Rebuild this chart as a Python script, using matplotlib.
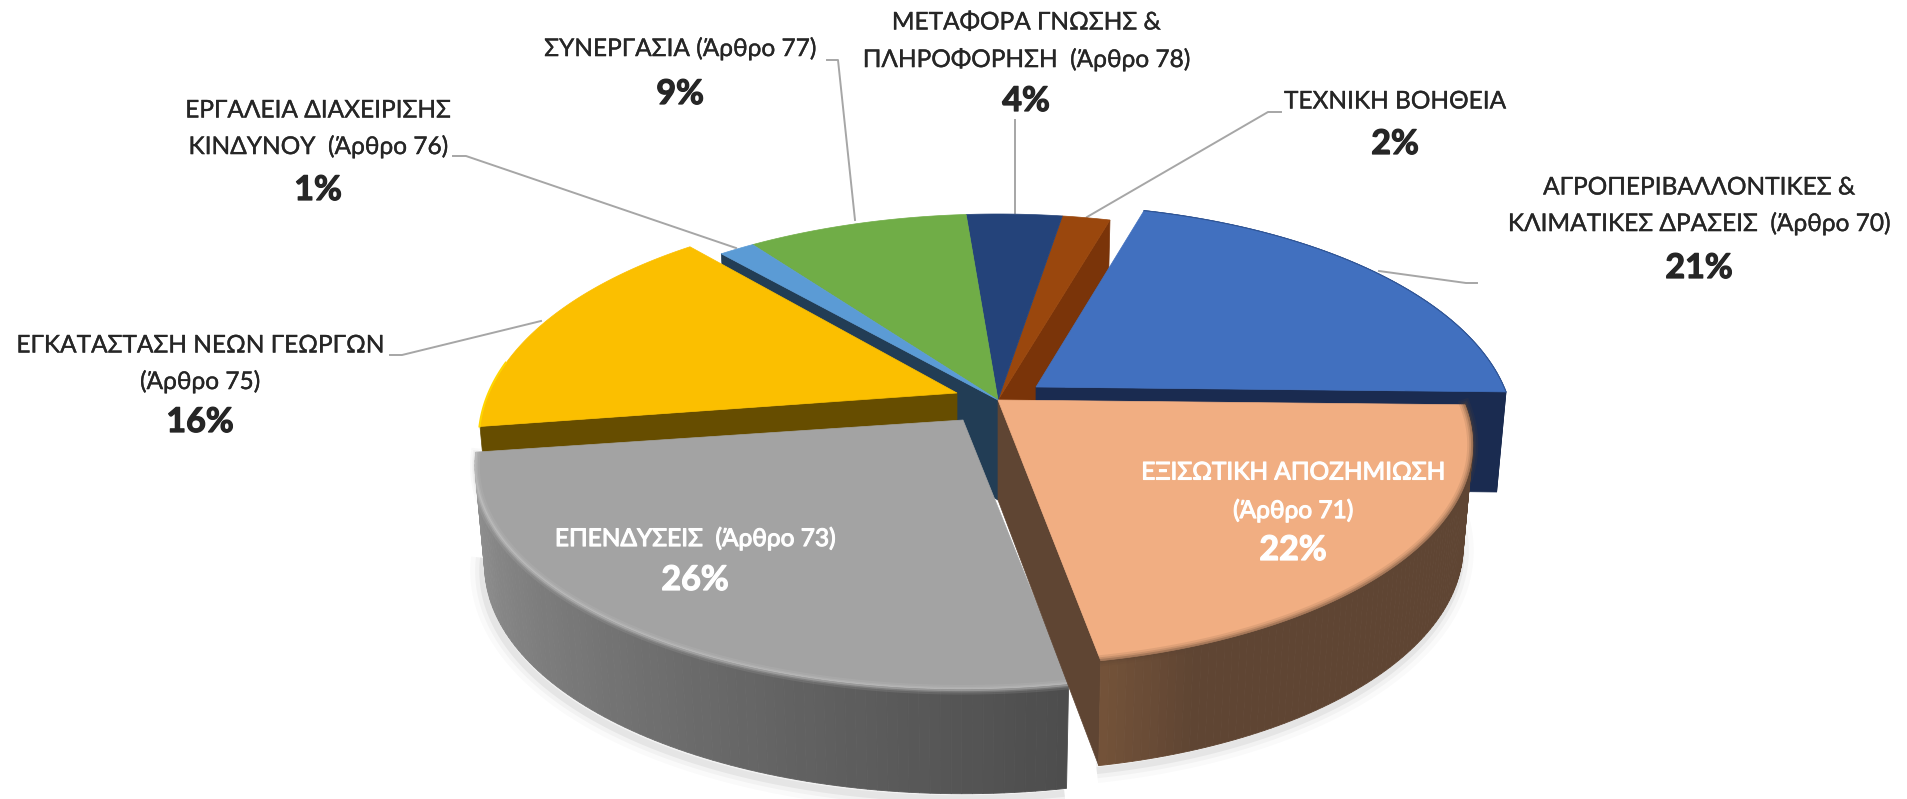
import matplotlib
matplotlib.use('Agg')
import matplotlib.pyplot as plt
import matplotlib.patheffects as pe
import numpy as np

# valeurs (ordre horaire, depuis le bleu)
names = ['ΑΓΡΟΠΕΡΙΒΑΛΛΟΝΤΙΚΕΣ &\nΚΛΙΜΑΤΙΚΕΣ ΔΡΑΣΕΙΣ  (Άρθρο 70)',
         'ΕΞΙΣΩΤΙΚΗ ΑΠΟΖΗΜΙΩΣΗ\n(Άρθρο 71)',
         'ΕΠΕΝΔΥΣΕΙΣ  (Άρθρο 73)',
         'ΕΓΚΑΤΑΣΤΑΣΗ ΝΕΩΝ ΓΕΩΡΓΩΝ\n(Άρθρο 75)',
         'ΕΡΓΑΛΕΙΑ ΔΙΑΧΕΙΡΙΣΗΣ\nΚΙΝΔΥΝΟΥ  (Άρθρο 76)',
         'ΣΥΝΕΡΓΑΣΙΑ (Άρθρο 77)',
         'ΜΕΤΑΦΟΡΑ ΓΝΩΣΗΣ &\nΠΛΗΡΟΦΟΡΗΣΗ  (Άρθρο 78)',
         'ΤΕΧΝΙΚΗ ΒΟΗΘΕΙΑ']
values = [20.9, 21.8, 25.5, 15.9, 1.4, 8.75, 3.8, 1.9]

top_colors = ['#4170BF', '#F1AE82', '#A3A3A3', '#FBBF00', '#5B9BD5', '#70AD47', '#24437A', '#9A470D']
wall_colors = ['#1A2B50', '#5F4533', '#6A6A6A', '#664D00', '#223D55', '#44682B', '#162848', '#7A3409']

# eclatement et rayon de chaque part
dx = [38, 0, -35, -41, 0, 0, 0, 0]
dy = [-13, 0, 20, -7, 0, 0, 0, 0]
rx = [468, 465, 478, 468, 485, 485, 485, 485]
ry_scale = [0.98, 0.95, 0.96, 1, 1, 1, 1, 1]

# pose des labels (centre x, y de chaque ligne)
label_x = [1699, 1293, 695, 200, 318, 680, 1026, 1395]
label_y = [[188, 224, 268], [473, 511, 550], [539, 580], [346, 382, 422],
           [111, 147, 190], [49, 94], [23, 60, 101], [102, 144]]

leaders = [[(1379, 271), (1466, 283), (1477, 283)],
           None, None,
           [(541, 321), (402, 355), (390, 355)],
           [(736, 248), (466, 156), (453, 156)],
           [(855, 220), (838, 60), (827, 60)],
           [(1015, 213), (1015, 120)],
           [(1087, 217), (1268, 112), (1281, 112)]]

plt.rcParams['font.family'] = ['Lato', 'Noto Sans', 'DejaVu Sans']

cx, cy = 998, 400
ry, k = 223.5, 0.2016
start = 16.0


def project(theta, i, drop=False, r=1.0):
    t = np.radians(theta)
    u, v = r * np.sin(t), r * np.cos(t)
    s = 1 / (1 + k * v)
    x = rx[i] * u * s
    y = -ry * ry_scale[i] * v * s
    if drop:
        x = x * 0.98
        y = y + 100 - 5 * v
    return cx + dx[i] + x, cy + dy[i] + y


def mix(c1, c2, f):
    a = np.array(matplotlib.colors.to_rgb(c1))
    b = np.array(matplotlib.colors.to_rgb(c2))
    return tuple(a + (b - a) * f)


fig = plt.figure(figsize=(19.08, 7.99), dpi=100)
ax = fig.add_axes([0, 0, 1, 1])
ax.set_xlim(0, 1908)
ax.set_ylim(799, 0)
ax.axis('off')

angles = start + np.cumsum([0] + values) / sum(values) * 360
a0 = angles[:-1]
a1 = angles[1:]


def arc(i, drop=False):
    t = np.linspace(a0[i], a1[i], 120)
    return project(t, i, drop)


def draw_top(i, z):
    x, y = arc(i)
    ox, oy = project(0, i, r=0)
    ax.fill(np.r_[ox, x], np.r_[oy, y], color=top_colors[i], lw=0.5, zorder=z)


def draw_cut(i, theta, color, z):
    ox, oy = project(0, i, r=0)
    ox2, oy2 = project(0, i, True, r=0)
    x, y = project(theta, i)
    x2, y2 = project(theta, i, True)
    ax.fill([ox, x, x2, ox2], [oy, y, y2, oy2], color=color, lw=0.5, zorder=z)


def draw_wall(i, c_left, c_right, z, knee=1.0):
    # bandes du mur exterieur, de gauche a droite
    t = np.linspace(a1[i], a0[i], 90)
    for j in range(len(t) - 1):
        f = min(j / (len(t) - 2) / knee, 1)
        tt = np.array([t[j], t[j + 1]])
        x, y = project(tt, i)
        x2, y2 = project(tt, i, True)
        ax.fill(np.r_[x, x2[::-1]], np.r_[y, y2[::-1]], color=mix(c_left, c_right, f), lw=0.6, zorder=z)


def draw_shadow(i, z):
    x, y = arc(i, True)
    for w, al in [(18, 0.02), (11, 0.03), (5, 0.05)]:
        ax.plot(x - 2, y + 5, color='black', lw=w, alpha=al, solid_capstyle='butt', zorder=z)


# ombres
draw_shadow(2, 1)
draw_shadow(1, 1)

# part bleue et petites parts du fond
draw_cut(7, a1[7], wall_colors[7], 2)
draw_top(7, 3)
draw_top(6, 3)
draw_top(5, 3)
draw_cut(0, a1[0], wall_colors[0], 4)
draw_wall(0, wall_colors[0], wall_colors[0], 4)
draw_top(0, 5)
x, y = arc(0)
ax.plot(x, y, color='#2F5597', lw=0.8, zorder=5)

# part bleu clair
draw_cut(4, a0[4], wall_colors[4], 6)
draw_top(4, 7)

# part jaune
draw_cut(3, a0[3], wall_colors[3], 8)
draw_top(3, 9)
x, y = arc(3)
ax.plot(x[:35] - 0.5, y[:35], color='#FFD500', lw=1.5, zorder=9)

# part grise
draw_wall(2, '#959595', '#4D4D4D', 10)
draw_top(2, 11)
x, y = arc(2)
for w, al in [(7, 0.12), (4, 0.2), (2, 0.35)]:
    ax.plot(x, y + 1, color='#D0D0D0', lw=w, alpha=al, zorder=12)

# part saumon
draw_cut(1, a1[1], wall_colors[1], 13)
draw_wall(1, '#735239', wall_colors[1], 13, knee=0.12)
draw_top(1, 14)
x, y = arc(1)
for w, al in [(8, 0.12), (5, 0.18), (2.5, 0.3)]:
    ax.plot(x, y, color='#5F4533', lw=w, alpha=al, zorder=15)

# traits de rappel
for line in leaders:
    if line is None:
        continue
    ax.plot([p[0] for p in line], [p[1] for p in line], color='#A6A6A6', lw=1.4, zorder=2)

# textes
white = [1, 2]
for i in range(len(names)):
    lines = names[i].split('\n')
    col = 'white' if i in white else '#262626'
    thick = 0.8 if i in white else 0.25
    for j, txt in enumerate(lines):
        t = ax.text(label_x[i], label_y[i][j], txt, ha='center', va='center', fontsize=17.6,
                    color=col, zorder=20)
        t.set_path_effects([pe.withStroke(linewidth=thick, foreground=col)])
    t = ax.text(label_x[i], label_y[i][-1], '%d%%' % round(values[i]), ha='center', va='center',
                fontsize=24.5, color=col, fontweight='bold', zorder=20)
    t.set_path_effects([pe.withStroke(linewidth=0.9, foreground=col)])

fig.savefig('out.png', dpi=100)
